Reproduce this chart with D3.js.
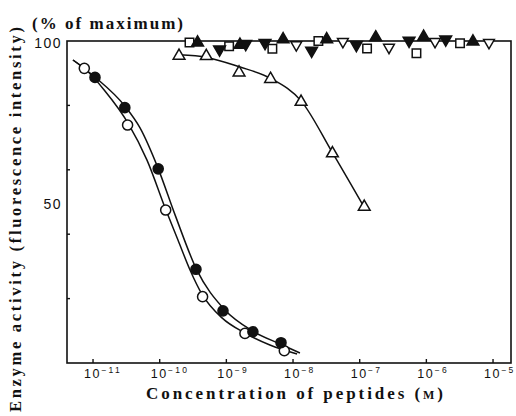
<!DOCTYPE html>
<html>
<head>
<meta charset="utf-8">
<script src="https://cdn.jsdelivr.net/npm/d3@7"></script>
<style>
  body { margin: 0; background: #fff; }
  svg { display: block; }
  .ttl { font-family: "Liberation Serif", "DejaVu Serif", serif; font-weight: bold; fill: #111; }
  .tick-lab { font-family: "Liberation Sans", "DejaVu Sans", sans-serif; fill: #111; }
</style>
</head>
<body>
<div id="chart"></div>
<script>
// concentrations (M) and activity (% of maximum)
var openCircleConc = [7.4e-12, 3.3e-11, 1.23e-10, 4.4e-10, 1.9e-9, 7.4e-9];
var openCircleAct  = [91.5, 73.9, 47.5, 20.6, 9.2, 3.8];

var filledCircleConc = [1.07e-11, 3.0e-11, 9.5e-11, 3.5e-10, 8.9e-10, 2.5e-9, 6.6e-9];
var filledCircleAct  = [88.7, 79.3, 60.3, 29.1, 16.2, 9.7, 6.3];

var openTriConc = [1.95e-10, 5.0e-10, 1.55e-9, 4.6e-9, 1.32e-8, 3.9e-8, 1.17e-7];
var openTriAct  = [95.4, 95.3, 90.2, 88.2, 81.1, 65.1, 48.5];

var filledTriConc = [3.7e-10, 1.6e-9, 7.1e-9, 3.2e-8, 1.74e-7, 9.1e-7, 5.0e-6];
var filledTriAct  = [99.5, 98.8, 100.5, 100.5, 101.1, 101.3, 99.8];

var filledDownConc = [7.9e-10, 1.95e-9, 3.8e-9, 1.9e-8, 8.9e-8, 5.5e-7, 1.95e-6];
var filledDownAct  = [97.4, 99.1, 99.4, 97.0, 98.8, 100.1, 100.5];

var openSquareConc = [2.8e-10, 1.1e-9, 4.9e-9, 2.4e-8, 1.29e-7, 7.1e-7, 3.2e-6];
var openSquareAct  = [99.5, 98.4, 97.6, 100.0, 97.7, 96.2, 99.3];

var openDownConc = [1.12e-8, 5.6e-8, 2.75e-7, 1.35e-6, 8.7e-6];
var openDownAct  = [98.8, 99.8, 98.0, 99.8, 99.5];

// hand-drawn fitted curves
var openCurveConc = [5.0e-12, 7.3e-12, 1.51e-11, 3.35e-11, 6.45e-11, 1.24e-10, 1.88e-10, 2.85e-10, 4.3e-10, 8.6e-10, 1.9e-9, 4.5e-9, 1.15e-8];
var openCurveAct  = [94.1, 91.6, 84.5, 74.5, 63.0, 47.5, 38.2, 28.9, 21.4, 14.0, 9.3, 5.6, 2.8];

var filledCurveConc = [5.0e-12, 1.07e-11, 3.0e-11, 5.07e-11, 9.4e-11, 1.7e-10, 3.6e-10, 9.2e-10, 2.5e-9, 6.4e-9, 1.27e-8];
var filledCurveAct  = [94.1, 88.8, 79.8, 73.0, 60.6, 46.0, 28.9, 16.8, 9.9, 5.9, 3.1];

var triCurveConc = [1.97e-10, 5.1e-10, 1.56e-9, 4.6e-9, 1.32e-8, 3.9e-8, 1.17e-7];
var triCurveAct  = [95.7, 94.9, 92.0, 88.4, 81.4, 65.3, 48.3];

var xTickValues = [1e-11, 1e-10, 1e-9, 1e-8, 1e-7, 1e-6, 1e-5];
var xTickExps   = ["\u221211", "\u221210", "\u22129", "\u22128", "\u22127", "\u22126", "\u22125"];
var yTickValues = [20, 40, 60, 80];
var yLabelValues = [50, 100];

var width = 516, height = 416;
var plot = {left: 67, right: 511, top: 41, bottom: 363};

var svg = d3.select("#chart").append("svg")
	.attr("width", width)
	.attr("height", height);

var x = d3.scaleLog()
	.domain([4.07e-12, 1.86e-5])
	.range([plot.left, plot.right]);

var y = d3.scaleLinear()
	.domain([0, 100])
	.range([plot.bottom, plot.top]);

function zip(xs, ys) {
	return xs.map(function(v, i) { return {c: v, a: ys[i]}; });
}

// frame
svg.append("rect")
	.attr("x", plot.left)
	.attr("y", plot.top)
	.attr("width", plot.right - plot.left)
	.attr("height", plot.bottom - plot.top)
	.attr("fill", "none")
	.attr("stroke", "#111")
	.attr("stroke-width", 1.6);

// x ticks (inward)
svg.append("g").selectAll("line")
	.data(xTickValues)
	.enter().append("line")
		.attr("x1", function(d) { return x(d); })
		.attr("x2", function(d) { return x(d); })
		.attr("y1", plot.bottom)
		.attr("y2", plot.bottom - 4)
		.attr("stroke", "#111")
		.attr("stroke-width", 1.4);

var xl = svg.append("g").selectAll("text")
	.data(xTickValues)
	.enter().append("text")
		.attr("class", "tick-lab")
		.attr("x", function(d) { return x(d) - 9; })
		.attr("y", 378)
		.attr("font-size", 12.5)
		.attr("letter-spacing", 1.5);
xl.append("tspan").text("10");
xl.append("tspan")
	.attr("dy", -5)
	.attr("dx", 0.5)
	.attr("font-size", 8.5)
	.attr("letter-spacing", 2.2)
	.text(function(d, i) { return xTickExps[i]; });

// y ticks (inward)
svg.append("g").selectAll("line")
	.data(yTickValues)
	.enter().append("line")
		.attr("x1", plot.left)
		.attr("x2", plot.left + 3)
		.attr("y1", function(d) { return y(d); })
		.attr("y2", function(d) { return y(d); })
		.attr("stroke", "#111")
		.attr("stroke-width", 1.4);

svg.append("g").selectAll("text")
	.data(yLabelValues)
	.enter().append("text")
		.attr("class", "tick-lab")
		.attr("x", 62)
		.attr("y", function(d) { return y(d) + 7; })
		.attr("text-anchor", "end")
		.attr("font-size", 14)
		.attr("letter-spacing", 1.5)
		.text(function(d) { return d; });

// curves
var line = d3.line()
	.x(function(d) { return x(d.c); })
	.y(function(d) { return y(d.a); })
	.curve(d3.curveMonotoneX);

[zip(openCurveConc, openCurveAct), zip(filledCurveConc, filledCurveAct), zip(triCurveConc, triCurveAct)]
	.forEach(function(pts) {
		svg.append("path")
			.attr("d", line(pts))
			.attr("fill", "none")
			.attr("stroke", "#111")
			.attr("stroke-width", 1.5);
	});

// markers
function drawSymbols(conc, act, type, size, filled, rotate) {
	var sym = d3.symbol().type(type).size(size);
	svg.append("g").selectAll("path")
		.data(zip(conc, act))
		.enter().append("path")
			.attr("d", sym)
			.attr("transform", function(d) {
				return "translate(" + x(d.c) + "," + y(d.a) + ")" + (rotate ? " rotate(180)" : "");
			})
			.attr("fill", filled ? "#111" : "#fff")
			.attr("stroke", "#111")
			.attr("stroke-width", 1.5);
}

drawSymbols(openSquareConc, openSquareAct, d3.symbolSquare, 72, false, false);
drawSymbols(openDownConc, openDownAct, d3.symbolTriangle, 50, false, true);
drawSymbols(filledDownConc, filledDownAct, d3.symbolTriangle, 60, true, true);
drawSymbols(filledTriConc, filledTriAct, d3.symbolTriangle, 60, true, false);
drawSymbols(openTriConc, openTriAct, d3.symbolTriangle, 60, false, false);
drawSymbols(openCircleConc, openCircleAct, d3.symbolCircle, 80, false, false);
drawSymbols(filledCircleConc, filledCircleAct, d3.symbolCircle, 80, true, false);

// titles
svg.append("text")
	.attr("class", "ttl")
	.attr("x", 32)
	.attr("y", 29)
	.attr("font-size", 17)
	.attr("textLength", 151)
	.attr("lengthAdjust", "spacing")
	.text("(% of maximum)");

var xt = svg.append("text")
	.attr("class", "ttl")
	.attr("x", 146)
	.attr("y", 399)
	.attr("font-size", 17)
	.attr("textLength", 297)
	.attr("lengthAdjust", "spacing");
xt.append("tspan").text("Concentration of  peptides (");
xt.append("tspan").attr("font-size", 12).text("M");
xt.append("tspan").text(")");

svg.append("text")
	.attr("class", "ttl")
	.attr("transform", "translate(21,412) rotate(-90)")
	.attr("font-size", 16.5)
	.attr("textLength", 385)
	.attr("lengthAdjust", "spacing")
	.text("Enzyme  activity  (fluorescence  intensity)");
</script>
</body>
</html>
